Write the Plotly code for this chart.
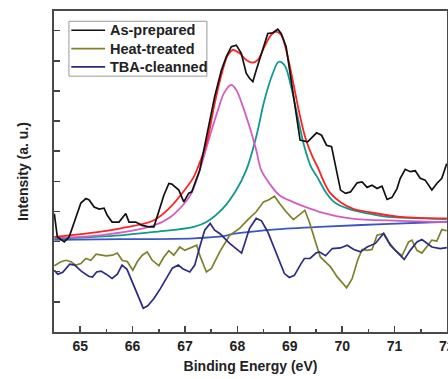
import plotly.graph_objects as go

# ---- data (binding energy in eV, intensity in arbitrary units) ----
asprep_x = [64.506, 64.563, 64.696, 64.79, 65.013, 65.108, 65.171, 65.266, 65.361, 65.456, 65.513, 65.608,
            65.741, 65.869, 65.932, 66.059, 66.179, 66.312, 66.407, 66.502, 66.597, 66.692, 66.749, 66.882,
            66.977, 67.072, 67.129, 67.281, 67.433, 67.566, 67.694, 67.789, 67.884, 67.979, 68.074, 68.169,
            68.232, 68.295, 68.359, 68.454, 68.58, 68.675, 68.77, 68.835, 68.93, 69.025, 69.12, 69.196,
            69.34, 69.511, 69.606, 69.701, 69.797, 69.873, 69.968, 70.063, 70.158, 70.285, 70.38, 70.475,
            70.57, 70.665, 70.76, 70.856, 70.951, 71.046, 71.108, 71.203, 71.298, 71.394, 71.489, 71.584,
            71.711, 71.806, 71.901, 71.996]
asprep_y = [3.93, 3.16, 2.99, 3.16, 4.28, 4.43, 4.38, 4.15, 4.08, 4.11, 3.88, 3.65,
            3.65, 3.93, 3.65, 3.65, 3.54, 3.49, 3.49, 4.04, 4.54, 4.93, 4.91, 4.71,
            4.32, 4.61, 4.65, 5.37, 6.70, 7.81, 8.69, 9.14, 9.47, 9.52, 9.25, 8.58,
            8.42, 8.31, 8.69, 9.25, 9.91, 9.93, 10.05, 9.91, 9.47, 8.36, 7.26, 6.37,
            6.31, 6.61, 6.53, 6.20, 6.15, 5.48, 4.71, 4.60, 4.65, 4.95, 4.98, 4.80,
            4.87, 4.76, 4.84, 4.40, 4.47, 4.76, 5.10, 5.40, 5.32, 5.35, 5.10, 5.04,
            4.71, 4.93, 5.10, 5.59]

heat_x = [64.506, 64.633, 64.728, 64.823, 64.918, 65.013, 65.108, 65.203, 65.304, 65.394, 65.494, 65.614,
          65.709, 65.804, 65.899, 66.004, 66.089, 66.184, 66.279, 66.374, 66.502, 66.597, 66.692, 66.787,
          66.901, 66.996, 67.091, 67.224, 67.281, 67.409, 67.504, 67.662, 67.852, 68.042, 68.2, 68.359,
          68.498, 68.612, 68.707, 68.802, 68.93, 69.068, 69.287, 69.373, 69.5, 69.582, 69.778, 69.905,
          70.085, 70.19, 70.294, 70.38, 70.475, 70.57, 70.665, 70.798, 70.888, 71.013, 71.141, 71.268,
          71.331, 71.426, 71.521, 71.616, 71.711, 71.806, 71.901, 71.996]
heat_y = [2.20, 2.33, 2.38, 2.33, 2.22, 2.27, 2.44, 2.38, 2.58, 2.55, 2.53, 2.55,
          2.62, 2.37, 2.34, 2.05, 2.33, 2.55, 2.66, 2.38, 2.20, 2.49, 2.70, 2.55,
          2.82, 2.71, 2.78, 2.88, 2.55, 1.99, 2.11, 2.66, 3.21, 3.44, 3.73, 3.99,
          4.32, 4.40, 4.51, 4.27, 3.99, 3.73, 4.04, 3.65, 2.94, 2.49, 2.16, 1.83,
          1.47, 1.77, 2.38, 2.74, 2.71, 2.74, 3.21, 3.27, 2.99, 2.71, 2.53, 2.99,
          3.05, 2.71, 2.62, 2.82, 3.05, 3.02, 3.40, 3.36]

tba_x = [64.506, 64.573, 64.667, 64.8, 64.895, 65.019, 65.162, 65.234, 65.314, 65.399, 65.494, 65.608,
         65.709, 65.798, 65.893, 66.017, 66.089, 66.203, 66.289, 66.407, 66.53, 66.663, 66.758, 66.872,
         66.958, 67.091, 67.186, 67.281, 67.376, 67.481, 67.566, 67.662, 67.852, 68.08, 68.232, 68.359,
         68.46, 68.58, 68.74, 68.897, 68.992, 69.087, 69.215, 69.278, 69.386, 69.5, 69.563, 69.683,
         69.81, 69.968, 70.095, 70.222, 70.348, 70.475, 70.633, 70.789, 70.918, 71.046, 71.184, 71.298,
         71.426, 71.521, 71.616, 71.711, 71.869, 71.996]
tba_y = [2.05, 1.92, 1.98, 2.25, 2.22, 2.02, 1.85, 1.82, 1.99, 2.02, 1.92, 1.78,
         1.92, 2.22, 2.08, 1.58, 1.28, 0.79, 0.87, 1.11, 1.44, 1.82, 2.12, 2.22,
         2.10, 1.99, 2.22, 2.82, 3.38, 3.60, 3.38, 3.27, 2.94, 2.62, 3.44, 3.77,
         3.69, 3.32, 2.60, 1.94, 1.81, 1.88, 2.27, 2.44, 2.44, 2.62, 2.66, 2.53,
         2.77, 2.79, 2.88, 2.74, 2.66, 2.82, 2.94, 3.27, 2.88, 2.66, 2.41, 2.71,
         2.99, 3.07, 2.94, 2.82, 2.77, 2.80]

env_x = [64.506, 65.139, 65.774, 66.407, 66.724, 67.04, 67.167, 67.249, 67.409, 67.567, 67.694, 67.819,
         67.914, 68.042, 68.169, 68.295, 68.39, 68.517, 68.644, 68.739, 68.835, 68.93, 69.055, 69.183,
         69.31, 69.435, 69.53, 69.652, 69.778, 69.968, 70.222, 70.475, 71.108, 71.996]
env_y = [3.16, 3.27, 3.44, 3.71, 4.15, 4.82, 5.15, 5.48, 6.26, 7.59, 8.53, 9.19,
         9.36, 9.25, 9.03, 8.94, 9.03, 9.47, 9.86, 9.97, 9.86, 9.36, 8.36, 7.26,
         6.37, 5.81, 5.48, 4.98, 4.60, 4.31, 4.08, 3.99, 3.82, 3.77]

peak1_x = [64.506, 65.38, 66.407, 66.724, 67.04, 67.135, 67.281, 67.471, 67.629, 67.757, 67.884, 67.979,
           68.105, 68.232, 68.359, 68.454, 68.612, 68.802, 69.055, 69.373, 69.563, 70.152, 71.103, 71.996]
peak1_y = [3.13, 3.21, 3.54, 3.82, 4.38, 4.65, 5.37, 6.48, 7.37, 7.97, 8.20, 8.03,
           7.48, 6.81, 6.04, 5.37, 4.93, 4.54, 4.32, 4.10, 3.99, 3.77, 3.69, 3.65]

peak2_x = [64.506, 65.774, 66.407, 67.167, 67.409, 67.724, 67.979, 68.169, 68.359, 68.517, 68.675, 68.789,
           68.897, 69.025, 69.15, 69.278, 69.405, 69.525, 69.683, 69.842, 70.095, 70.475, 70.793, 71.996]
peak2_y = [3.10, 3.21, 3.32, 3.49, 3.65, 4.10, 4.71, 5.37, 6.48, 7.70, 8.58, 8.97,
           8.86, 8.14, 7.14, 6.15, 5.48, 5.14, 4.65, 4.32, 4.10, 3.94, 3.84, 3.75]

base_x = [64.506, 65.767, 67.167, 67.738, 67.914, 68.555, 68.675, 69.563, 70.78, 71.996]
base_y = [3.06, 3.08, 3.11, 3.18, 3.26, 3.38, 3.40, 3.49, 3.58, 3.66]

x_ticks = [65, 66, 67, 68, 69, 70, 71, 72]

series_names = ["As-prepared", "Heat-treated", "TBA-cleanned"]
series_colors = ["#111111", "#7f7f2c", "#2a2a88"]

FONT = "Liberation Sans, Arial, sans-serif"

fig = go.Figure()

fit_style = dict(mode="lines", showlegend=False, hoverinfo="skip")
fig.add_trace(go.Scatter(x=base_x, y=base_y, line=dict(color="#3a55c4", width=1.8, shape="spline"), **fit_style))
fig.add_trace(go.Scatter(x=peak2_x, y=peak2_y, line=dict(color="#10998f", width=1.8, shape="spline"), **fit_style))
fig.add_trace(go.Scatter(x=peak1_x, y=peak1_y, line=dict(color="#d65cc2", width=1.8, shape="spline"), **fit_style))
fig.add_trace(go.Scatter(x=env_x, y=env_y, line=dict(color="#ff2222", width=1.8, shape="spline"), **fit_style))

for xs, ys, nm, col in zip([asprep_x, heat_x, tba_x], [asprep_y, heat_y, tba_y], series_names, series_colors):
    fig.add_trace(go.Scatter(x=xs, y=ys, mode="lines", name=nm, showlegend=False,
                             line=dict(color=col, width=1.7)))

# ---- legend box drawn in paper coordinates ----
fig.add_shape(type="rect", xref="paper", yref="paper", x0=0.038, x1=0.389, y0=0.797, y1=0.968,
              line=dict(color="#999999", width=1), fillcolor="white", layer="above")
row_y = [0.940, 0.883, 0.826]
for ry, nm, col in zip(row_y, series_names, series_colors):
    fig.add_shape(type="line", xref="paper", yref="paper", x0=0.044, x1=0.130, y0=ry, y1=ry,
                  line=dict(color=col, width=1.7), layer="above")
    fig.add_annotation(x=0.137, y=ry, xref="paper", yref="paper", text=nm, showarrow=False,
                       xanchor="left", yanchor="middle",
                       font=dict(family=FONT, size=14.5, color="#222222", weight="bold"))

# cut-off last tick label at the right edge
fig.add_annotation(x=72, y=0, xref="x", yref="paper", text="72", showarrow=False,
                   xanchor="center", yanchor="top", yshift=-4,
                   font=dict(family=FONT, size=14, color="#222222", weight="bold"))

fig.update_layout(
    width=448, height=379,
    margin=dict(l=54, r=1, t=11, b=47, autoexpand=False),
    paper_bgcolor="white", plot_bgcolor="white",
    font=dict(family=FONT, size=14, color="#222222"),
    showlegend=False,
)

fig.update_xaxes(
    range=[64.5, 72.0], automargin=False,
    tickmode="array", tickvals=x_ticks, ticktext=[str(v) for v in x_ticks],
    ticks="inside", ticklen=6, tickwidth=1.5, tickcolor="#444444",
    minor=dict(dtick=0.5, ticks="inside", ticklen=3, tickwidth=1.5, tickcolor="#444444"),
    showline=True, linecolor="#4a4a4a", linewidth=2, mirror=True,
    showgrid=False, zeroline=False,
    tickfont=dict(family=FONT, size=14, color="#222222", weight="bold"),
    title=dict(text="Binding Energy (eV)", standoff=8,
               font=dict(family=FONT, size=14, color="#222222", weight="bold")),
)

fig.update_yaxes(
    range=[0, 10.654], automargin=False,
    dtick=1, tick0=0,
    showticklabels=False,
    ticks="inside", ticklen=6, tickwidth=1.5, tickcolor="#444444",
    showline=True, linecolor="#4a4a4a", linewidth=2, mirror=True,
    showgrid=False, zeroline=False,
    title=dict(text="Intensity (a. u.)", standoff=20,
               font=dict(family=FONT, size=14, color="#222222", weight="bold")),
)

fig.write_html("out.html", config={"displayModeBar": False, "staticPlot": True},
               post_script="document.body.style.margin='0';document.body.style.overflow='hidden';")
